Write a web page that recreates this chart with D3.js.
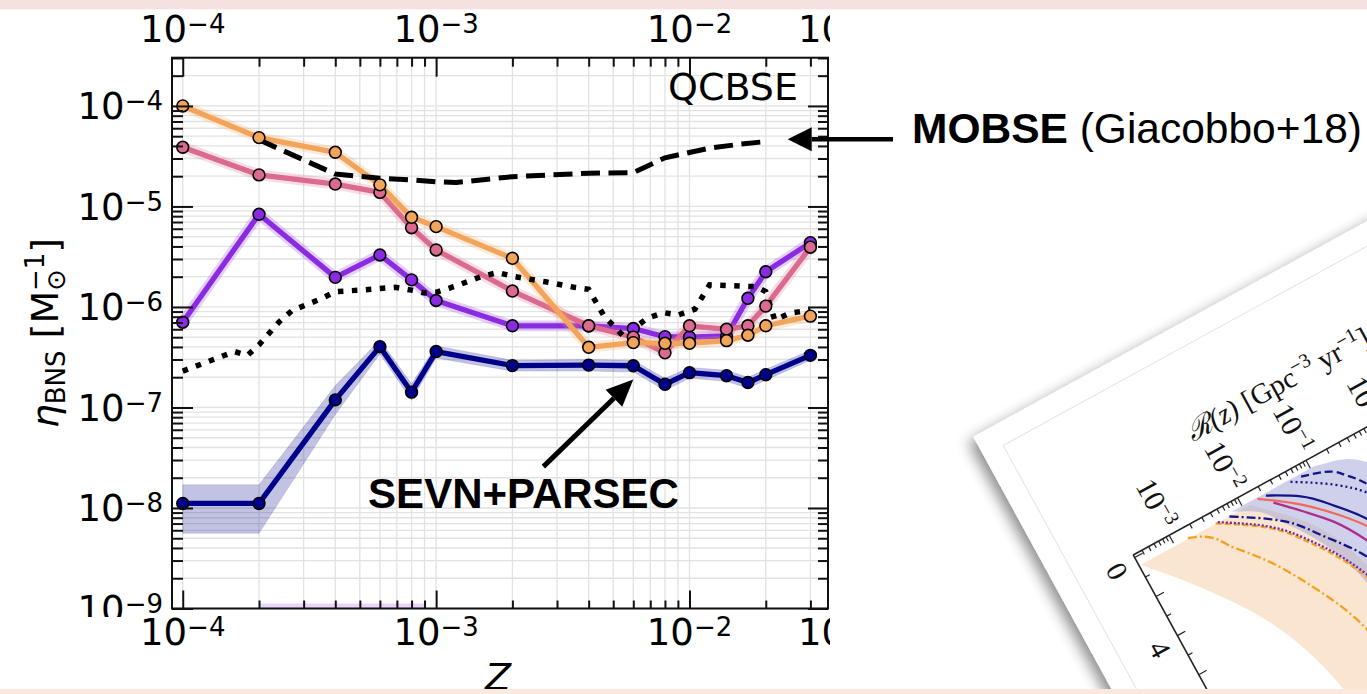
<!DOCTYPE html>
<html>
<head>
<meta charset="utf-8">
<script src="https://cdn.jsdelivr.net/npm/d3@7"></script>
<style>
  html, body { margin: 0; padding: 0; background: #fff; }
  svg { display: block; }
</style>
</head>
<body>
<div id="chart"></div>
<script>
// metallicity grid of the SEVN+PARSEC runs
var metallicity = [1e-4, 2e-4, 4e-4, 6e-4, 8e-4, 1e-3, 2e-3, 4e-3, 6e-3, 8e-3, 1e-2, 1.4e-2, 1.7e-2, 2e-2, 3e-2];

// BNS merger efficiency per model
var etaOrange = [1.0e-4, 4.84e-5, 3.46e-5, 1.64e-5, 7.8e-6, 6.3e-6, 3.05e-6, 3.97e-7, 4.42e-7, 4.35e-7, 4.35e-7, 4.62e-7, 5.23e-7, 6.5e-7, 8.1e-7];
var etaPink   = [3.88e-5, 2.06e-5, 1.67e-5, 1.38e-5, 6.15e-6, 3.69e-6, 1.44e-6, 6.5e-7, 5.0e-7, 3.5e-7, 6.5e-7, 6.0e-7, 6.5e-7, 1.02e-6, 3.93e-6];
var etaPurple = [7.05e-7, 8.36e-6, 1.97e-6, 3.29e-6, 1.86e-6, 1.16e-6, 6.5e-7, 6.47e-7, 6.1e-7, 5.06e-7, 5.0e-7, 5.14e-7, 1.22e-6, 2.24e-6, 4.36e-6];
var etaNavy   = [1.11e-8, 1.11e-8, 1.19e-7, 4.03e-7, 1.42e-7, 3.6e-7, 2.61e-7, 2.64e-7, 2.6e-7, 1.7e-7, 2.22e-7, 2.07e-7, 1.77e-7, 2.12e-7, 3.3e-7];
var navyLow   = [5.6e-9, 5.6e-9, 8.5e-8, 3.4e-7, 1.18e-7, 3.1e-7, 2.3e-7, 2.3e-7, 2.25e-7, 1.48e-7, 1.95e-7, 1.82e-7, 1.55e-7, 1.87e-7, 2.95e-7];
var navyHigh  = [1.7e-8, 1.7e-8, 1.65e-7, 4.7e-7, 1.72e-7, 4.1e-7, 2.95e-7, 3.0e-7, 2.95e-7, 1.95e-7, 2.5e-7, 2.35e-7, 2.0e-7, 2.4e-7, 3.7e-7];

// purple uncertainty band that drops to the lower limit
var purpleFloorZ = [2e-4, 9e-4];
var purpleFloorTop = [1.12e-9, 1.12e-9];

// MOBSE (dashed)
var mobseZ   = [2e-4, 4e-4, 6e-4, 8e-4, 1e-3, 1.2e-3, 2e-3, 4e-3, 6e-3, 8e-3, 1.2e-2, 1.6e-2, 2e-2];
var mobseEta = [4.6e-5, 2.1e-5, 1.91e-5, 1.84e-5, 1.76e-5, 1.73e-5, 1.98e-5, 2.14e-5, 2.17e-5, 3.05e-5, 3.8e-5, 4.18e-5, 4.42e-5];

// dotted comparison curve
var dotZ   = [1.0e-4, 1.6e-4, 1.8e-4, 2.0e-4, 2.4e-4, 2.7e-4, 3.5e-4, 4.0e-4, 5.2e-4, 6.9e-4, 8.0e-4, 9.0e-4, 1.0e-3, 1.2e-3, 1.5e-3, 1.75e-3, 2.05e-3, 2.7e-3, 3.5e-3, 4.0e-3, 4.6e-3, 5.5e-3, 6.8e-3, 7.9e-3, 9.0e-3, 1.05e-2, 1.2e-2, 1.84e-2, 2.0e-2, 2.17e-2, 2.5e-2, 3.0e-2];
var dotEta = [2.3e-7, 3.6e-7, 3.3e-7, 4.2e-7, 7.1e-7, 9.2e-7, 1.2e-6, 1.42e-6, 1.48e-6, 1.57e-6, 1.47e-6, 1.38e-6, 1.4e-6, 1.62e-6, 2.0e-6, 2.2e-6, 2.0e-6, 1.78e-6, 1.57e-6, 1.5e-6, 8.1e-7, 5.1e-7, 7.7e-7, 8.8e-7, 8.3e-7, 9.5e-7, 1.66e-6, 1.59e-6, 1.42e-6, 7.4e-7, 8.7e-7, 9.3e-7];

// tick labels
var xLabelAt  = [1e-4, 1e-3, 1e-2, 0.0395];
var xLabelExp = ["\u22124", "\u22123", "\u22122", "\u22121"];
var yLabelAt  = [1e-9, 1e-8, 1e-7, 1e-6, 1e-5, 1e-4];
var yLabelExp = ["\u22129", "\u22128", "\u22127", "\u22126", "\u22125", "\u22124"];

// tilted paper figure on the right: R(z) curves
var cardTickAt  = [1e-3, 1e-2, 1e-1, 1];
var cardTickExp = ["\u22123", "\u22122", "\u22121", "0"];
var cardZLabels = [0, 4, 8];
var peachZ    = [0.44, 2.63, 5.34, 8.15, 11];
var peachLow  = [3.2e-4, 1.1e-3, 3.8e-3, 8.2e-3, 1.2e-2];
var peachHigh = [1.26e-2, 5e-2, 0.112, 0.158, 0.16];
var lavZ    = [0.3, 0.72, 2, 4, 8, 11];
var lavLow  = [7.1e-3, 1.2e-2, 2.5e-2, 5.6e-2, 0.1, 0.1];
var lavHigh = [0.115, 0.30, 0.63, 0.8, 0.63, 0.5];
var cNavyDashZ = [0.42, 0.74, 1.4, 2.15, 3.2], cNavyDashR = [0.071, 0.138, 0.24, 0.355, 0.5];
var cNavyDotZ  = [0.4, 1.45, 2.5, 3.5], cNavyDotR = [0.05, 0.148, 0.316, 0.447];
var cNavyZ     = [0.41, 1.19, 2.3, 3.5, 5], cNavyR = [0.0218, 0.053, 0.112, 0.214, 0.355];
var cSalmonZ   = [0.36, 1.5, 2.6, 3.8, 5], cSalmonR = [0.0167, 0.047, 0.1, 0.195, 0.316];
var cMagentaZ  = [0.85, 1.8, 2.9, 4.35, 6], cMagentaR = [0.024, 0.0447, 0.087, 0.158, 0.25];
var cNavyDDZ   = [0.45, 1.8, 3.3, 5.0, 7], cNavyDDR = [0.0063, 0.024, 0.056, 0.126, 0.2];
var cOrangeDashZ = [0.42, 1.7, 3.5, 5.8, 8], cOrangeDashR = [0.004, 0.0143, 0.04, 0.094, 0.141];
var cPurpleDotZ  = [0.42, 1.7, 3.5, 5.8, 8], cPurpleDotR = [0.0043, 0.0152, 0.043, 0.1, 0.15];
var cOrangeDDZ   = [0.4, 0.62, 1.78, 3.0, 5, 7.4, 10], cOrangeDDR = [0.00158, 0.00224, 0.00457, 0.0089, 0.02, 0.041, 0.055];

var W = 1367, H = 694;
var plot = {left: 172, right: 828, top: 57.7, bottom: 608.5};

var svg = d3.select("#chart").append("svg")
    .attr("width", W)
    .attr("height", H);

svg.append("rect").attr("width", W).attr("height", H).attr("fill", "#fff");

var defs = svg.append("defs");
defs.append("clipPath").attr("id", "plotClip").append("rect")
    .attr("x", plot.left).attr("y", plot.top)
    .attr("width", plot.right - plot.left).attr("height", plot.bottom - plot.top);
defs.append("clipPath").attr("id", "rightCut").append("rect")
    .attr("x", 0).attr("y", 0).attr("width", 830).attr("height", H);
defs.append("clipPath").attr("id", "yLabCut").append("rect")
    .attr("x", 0).attr("y", 0).attr("width", plot.left).attr("height", 617);
var shadow = defs.append("filter").attr("id", "cardShadow")
    .attr("x", "-20%").attr("y", "-20%").attr("width", "140%").attr("height", "140%");
shadow.append("feDropShadow")
    .attr("dx", -7).attr("dy", 3).attr("stdDeviation", 7)
    .attr("flood-color", "#000").attr("flood-opacity", 0.45);
defs.append("clipPath").attr("id", "cardPlotClip").append("rect")
    .attr("x", 83.5).attr("y", 180.5).attr("width", 900).attr("height", 900);

// scales
var xScale = d3.scaleLog()
    .domain([9.07e-5, 0.0352])
    .range([plot.left, plot.right]);

var yScale = d3.scaleLog()
    .domain([1e-9, 3.02e-4])
    .range([plot.bottom, plot.top]);

function isMajor(d) {
  var l = Math.log10(d);
  return Math.abs(l - Math.round(l)) < 1e-6;
}

var chart = svg.append("g").attr("clip-path", "url(#rightCut)");

// grid
var xTicks = xScale.ticks();
var yTicks = yScale.ticks();
chart.append("g").selectAll("line").data(xTicks).enter().append("line")
    .attr("x1", d => xScale(d)).attr("x2", d => xScale(d))
    .attr("y1", plot.top).attr("y2", plot.bottom)
    .attr("stroke", "#e2e2e2").attr("stroke-width", 1.3);
chart.append("g").selectAll("line").data(yTicks).enter().append("line")
    .attr("x1", plot.left).attr("x2", plot.right)
    .attr("y1", d => yScale(d)).attr("y2", d => yScale(d))
    .attr("stroke", "#e2e2e2").attr("stroke-width", 1.3);

var data = chart.append("g").attr("clip-path", "url(#plotClip)");

// bands
var bandArea = d3.area()
    .x(d => xScale(d[0]))
    .y0(d => yScale(d[1]))
    .y1(d => yScale(d[2]));

data.append("path")
    .datum(purpleFloorZ.map((z, i) => [z, 1e-9, purpleFloorTop[i]]))
    .attr("d", bandArea)
    .attr("fill", "#8a2be2").attr("fill-opacity", 0.2);

data.append("path")
    .datum(metallicity.map((z, i) => [z, navyLow[i], navyHigh[i]]))
    .attr("d", bandArea)
    .attr("fill", "#00008b").attr("fill-opacity", 0.24)
    .attr("stroke", "#00008b").attr("stroke-opacity", 0.12).attr("stroke-width", 1);

var line = d3.line()
    .x(d => xScale(d[0]))
    .y(d => yScale(d[1]));

var series = [
  {vals: etaNavy,   color: "#00008b", halo: false},
  {vals: etaPurple, color: "#8a2be2", halo: true},
  {vals: etaPink,   color: "#db6a8f", halo: true},
  {vals: etaOrange, color: "#f2a55a", halo: true}
];

series.forEach(function(s) {
  var pts = metallicity.map((z, i) => [z, s.vals[i]]);
  if (s.halo) {
    data.append("path").datum(pts).attr("d", line)
        .attr("fill", "none").attr("stroke", s.color)
        .attr("stroke-opacity", 0.22).attr("stroke-width", 11)
        .attr("stroke-linejoin", "round");
  }
  data.append("path").datum(pts).attr("d", line)
      .attr("fill", "none").attr("stroke", s.color)
      .attr("stroke-width", 5.3).attr("stroke-linejoin", "round");
});

// black comparison curves
data.append("path")
    .datum(mobseZ.map((z, i) => [z, mobseEta[i]]))
    .attr("d", line)
    .attr("fill", "none").attr("stroke", "#000")
    .attr("stroke-width", 5).attr("stroke-dasharray", "19,8.5");

data.append("path")
    .datum(dotZ.map((z, i) => [z, dotEta[i]]))
    .attr("d", line)
    .attr("fill", "none").attr("stroke", "#000")
    .attr("stroke-width", 5.5).attr("stroke-dasharray", "5.5,8.5");

// markers
series.forEach(function(s) {
  data.append("g").selectAll("circle")
      .data(metallicity.map((z, i) => [z, s.vals[i]]))
      .enter().append("circle")
      .attr("cx", d => xScale(d[0]))
      .attr("cy", d => yScale(d[1]))
      .attr("r", 5.9)
      .attr("fill", s.color)
      .attr("stroke", "#000").attr("stroke-width", 1.6);
});

// spines
chart.append("rect")
    .attr("x", plot.left).attr("y", plot.top)
    .attr("width", plot.right - plot.left).attr("height", plot.bottom - plot.top)
    .attr("fill", "none").attr("stroke", "#111").attr("stroke-width", 2);

// ticks, all pointing inward
var xMajor = xTicks.filter(isMajor), xMinor = xTicks.filter(d => !isMajor(d));
var yMajor = yTicks.filter(isMajor), yMinor = yTicks.filter(d => !isMajor(d));

function tickStyle(g) {
  g.select(".domain").remove();
  g.selectAll("line").attr("stroke", "#111").attr("stroke-width", 2);
}

chart.append("g").attr("transform", `translate(0,${plot.bottom})`)
    .call(d3.axisBottom(xScale).tickValues(xMajor).tickSize(-18).tickFormat("")).call(tickStyle);
chart.append("g").attr("transform", `translate(0,${plot.bottom})`)
    .call(d3.axisBottom(xScale).tickValues(xMinor).tickSize(-8).tickFormat("")).call(tickStyle);
chart.append("g").attr("transform", `translate(0,${plot.top})`)
    .call(d3.axisTop(xScale).tickValues(xMajor).tickSize(-19).tickFormat("")).call(tickStyle);
chart.append("g").attr("transform", `translate(0,${plot.top})`)
    .call(d3.axisTop(xScale).tickValues(xMinor).tickSize(-9).tickFormat("")).call(tickStyle);
chart.append("g").attr("transform", `translate(${plot.left},0)`)
    .call(d3.axisLeft(yScale).tickValues(yMajor).tickSize(-21).tickFormat("")).call(tickStyle);
chart.append("g").attr("transform", `translate(${plot.left},0)`)
    .call(d3.axisLeft(yScale).tickValues(yMinor).tickSize(-11).tickFormat("")).call(tickStyle);
chart.append("g").attr("transform", `translate(${plot.right},0)`)
    .call(d3.axisRight(yScale).tickValues(yMajor).tickSize(-20).tickFormat("")).call(tickStyle);
chart.append("g").attr("transform", `translate(${plot.right},0)`)
    .call(d3.axisRight(yScale).tickValues(yMinor).tickSize(-10).tickFormat("")).call(tickStyle);

// power-of-ten tick labels
function powText(sel, exp, big, small, raise) {
  sel.append("tspan").attr("font-size", big).text("10");
  sel.append("tspan").attr("font-size", small).attr("dy", -raise).text(exp);
}

var xLab = chart.append("g").attr("font-family", "DejaVu Sans, sans-serif").attr("fill", "#000");
xLabelAt.forEach(function(v, i) {
  [plot.top - 15.7, plot.bottom + 36.5].forEach(function(y) {
    var t = xLab.append("text")
        .attr("x", xScale(v)).attr("y", y)
        .attr("text-anchor", "middle");
    powText(t, xLabelExp[i], 37, 26, 9);
  });
});

var yLab = chart.append("g").attr("clip-path", "url(#yLabCut)")
    .attr("font-family", "DejaVu Sans, sans-serif").attr("fill", "#000");
yLabelAt.forEach(function(v, i) {
  var t = yLab.append("text")
      .attr("x", plot.left - 9).attr("y", yScale(v) + 13.5)
      .attr("text-anchor", "end");
  powText(t, yLabelExp[i], 37, 26, 9);
});

// in-panel tag
chart.append("text")
    .attr("x", plot.right - 30).attr("y", 100)
    .attr("text-anchor", "end")
    .attr("font-family", "DejaVu Sans, sans-serif").attr("font-size", 38)
    .text("QCBSE");

// axis titles
var yTitle = svg.append("text")
    .attr("transform", `translate(58,${(plot.top + plot.bottom) / 2}) rotate(-90)`)
    .attr("text-anchor", "middle")
    .attr("font-family", "DejaVu Sans, sans-serif").attr("font-size", 38);
yTitle.append("tspan").attr("font-style", "italic").text("\u03b7");
yTitle.append("tspan").attr("font-size", 26).attr("dy", 7).text("BNS");
yTitle.append("tspan").attr("dy", -7).text(" [M");
yTitle.append("tspan").attr("font-size", 26).attr("dy", 7).text("\u2299");
yTitle.append("tspan").attr("font-size", 26).attr("dx", -22).attr("dy", -21).text("\u22121");
yTitle.append("tspan").attr("dy", 14).text("]");

svg.append("text")
    .attr("x", (plot.left + plot.right) / 2 - 2).attr("y", 690)
    .attr("text-anchor", "middle")
    .attr("font-family", "DejaVu Sans, sans-serif").attr("font-size", 38)
    .attr("font-style", "italic")
    .text("Z");

// annotations
function arrow(x1, y1, x2, y2, headLen, headW, shaftW) {
  var a = Math.atan2(y2 - y1, x2 - x1);
  var bx = x2 - headLen * Math.cos(a), by = y2 - headLen * Math.sin(a);
  svg.append("line")
      .attr("x1", x1).attr("y1", y1).attr("x2", bx).attr("y2", by)
      .attr("stroke", "#000").attr("stroke-width", shaftW);
  var nx = -Math.sin(a) * headW / 2, ny = Math.cos(a) * headW / 2;
  svg.append("path")
      .attr("d", `M${x2},${y2}L${bx + nx},${by + ny}L${bx - nx},${by - ny}Z`)
      .attr("fill", "#000");
}

var mobseY = yScale(4.67e-5);
arrow(893, mobseY, xScale(0.0244), mobseY, 24, 24, 4.5);
var mob = svg.append("text")
    .attr("x", 912).attr("y", mobseY + 4)
    .attr("font-family", "Liberation Sans, Arial, sans-serif").attr("font-size", 42.5);
mob.append("tspan").attr("font-weight", "bold").text("MOBSE");
mob.append("tspan").text(" (Giacobbo+18)");

arrow(xScale(2.65e-3), yScale(2.58e-8), xScale(6e-3), yScale(1.9e-7), 27, 24, 5);
svg.append("text")
    .attr("x", xScale(5.39e-4)).attr("y", yScale(1e-8))
    .attr("font-family", "Liberation Sans, Arial, sans-serif").attr("font-size", 42)
    .attr("font-weight", "bold")
    .text("SEVN+PARSEC");

// tilted paper figure
var card = svg.append("g").attr("transform", "translate(973.3,436.7) rotate(-28.7)");
card.append("rect")
    .attr("width", 900).attr("height", 900)
    .attr("fill", "#fff").attr("filter", "url(#cardShadow)");
card.append("rect")
    .attr("x", 22).attr("y", 22).attr("width", 860).attr("height", 860)
    .attr("fill", "none").attr("stroke", "#e4e4e4").attr("stroke-width", 1);

var uScale = d3.scaleLog().domain([1e-3, 1]).range([124, 358]);
var vScale = d3.scaleLinear().domain([0, 4]).range([183, 272]);

var cardPlot = card.append("g").attr("clip-path", "url(#cardPlotClip)");
var cArea = d3.area()
    .x0(d => uScale(d[1])).x1(d => uScale(d[2]))
    .y(d => vScale(d[0]))
    .curve(d3.curveMonotoneY);
cardPlot.append("path")
    .datum(peachZ.map((z, i) => [z, peachLow[i], peachHigh[i]]))
    .attr("d", cArea).attr("fill", "#f9dfc4").attr("fill-opacity", 0.8);
cardPlot.append("path")
    .datum(lavZ.map((z, i) => [z, lavLow[i], lavHigh[i]]))
    .attr("d", cArea).attr("fill", "#9fa3d6").attr("fill-opacity", 0.5);

var cLine = d3.line()
    .x(d => uScale(d[1]))
    .y(d => vScale(d[0]))
    .curve(d3.curveMonotoneY);
var cardCurves = [
  {z: cOrangeDDZ, r: cOrangeDDR, color: "#f5a020", dash: "9,3,2,3"},
  {z: cOrangeDashZ, r: cOrangeDashR, color: "#f5a020", dash: "6,3"},
  {z: cPurpleDotZ, r: cPurpleDotR, color: "#6a2aa8", dash: "2,2"},
  {z: cNavyDDZ, r: cNavyDDR, color: "#141488", dash: "9,3,2,3"},
  {z: cMagentaZ, r: cMagentaR, color: "#b02c8c", dash: null},
  {z: cSalmonZ, r: cSalmonR, color: "#ef6a5a", dash: null},
  {z: cNavyZ, r: cNavyR, color: "#141488", dash: null},
  {z: cNavyDotZ, r: cNavyDotR, color: "#141488", dash: "2,3"},
  {z: cNavyDashZ, r: cNavyDashR, color: "#141488", dash: "8,4"}
];
cardCurves.forEach(function(c) {
  cardPlot.append("path")
      .datum(c.z.map((z, i) => [z, c.r[i]]))
      .attr("d", cLine)
      .attr("fill", "none").attr("stroke", c.color)
      .attr("stroke-width", 2.3)
      .attr("stroke-dasharray", c.dash);
});

// card axes
var uTickScale = uScale.copy().domain([3e-4, 100]).range([uScale(3e-4), uScale(100)]);
var uTicks = uTickScale.ticks();
card.append("line").attr("x1", 83.5).attr("x2", 900).attr("y1", 180.5).attr("y2", 180.5)
    .attr("stroke", "#222").attr("stroke-width", 1.6);
card.append("line").attr("x1", 83.5).attr("x2", 83.5).attr("y1", 180.5).attr("y2", 900)
    .attr("stroke", "#222").attr("stroke-width", 1.6);
card.append("g").attr("transform", "translate(0,180.5)")
    .call(d3.axisBottom(uScale).tickValues(uTicks.filter(d => d > 3.1e-4)).tickSize(5).tickFormat(""))
    .call(g => g.select(".domain").remove())
    .call(g => g.selectAll("line").attr("stroke", "#222").attr("stroke-width", 1.2)
        .attr("y2", d => isMajor(d) ? 9 : 5));
card.append("g").attr("transform", "translate(83.5,0)")
    .call(d3.axisRight(vScale).tickValues([0, 1, 2, 3, 4, 5, 6, 7, 8, 9, 10]).tickFormat(""))
    .call(g => g.select(".domain").remove())
    .call(g => g.selectAll("line").attr("stroke", "#222").attr("stroke-width", 1.2)
        .attr("x2", d => d % 2 === 0 ? 9 : 5));

var cardFont = "Liberation Serif, DejaVu Serif, serif";
cardTickAt.forEach(function(v, i) {
  var t = card.append("text")
      .attr("transform", `translate(${uScale(v)},172) rotate(90)`)
      .attr("text-anchor", "end").attr("dy", "0.35em")
      .attr("font-family", cardFont).attr("fill", "#111");
  powText(t, cardTickExp[i], 30, 20, 10);
});
cardZLabels.forEach(function(z) {
  card.append("text")
      .attr("transform", `translate(62,${vScale(z) + 4}) rotate(90)`)
      .attr("text-anchor", "middle").attr("dy", "0.35em")
      .attr("font-family", cardFont).attr("font-size", 29).attr("fill", "#111")
      .text(z);
});
var rLab = card.append("text")
    .attr("x", 190).attr("y", 110)
    .attr("font-family", cardFont).attr("font-size", 29).attr("fill", "#111");
rLab.append("tspan").attr("font-style", "italic").text("\u211b(z) ");
rLab.append("tspan").text("[Gpc");
rLab.append("tspan").attr("font-size", 20).attr("dy", -11).text("\u22123");
rLab.append("tspan").attr("dy", 11).text(" yr");
rLab.append("tspan").attr("font-size", 20).attr("dy", -11).text("\u22121");
rLab.append("tspan").attr("dy", 11).text("]");

// slide bands
svg.append("rect").attr("x", 0).attr("y", 0).attr("width", W).attr("height", 9.3)
    .attr("fill", "#f6e1e1");
svg.append("rect").attr("x", 0).attr("y", 689).attr("width", W).attr("height", H - 689)
    .attr("fill", "#fce9dd");
</script>
</body>
</html>
